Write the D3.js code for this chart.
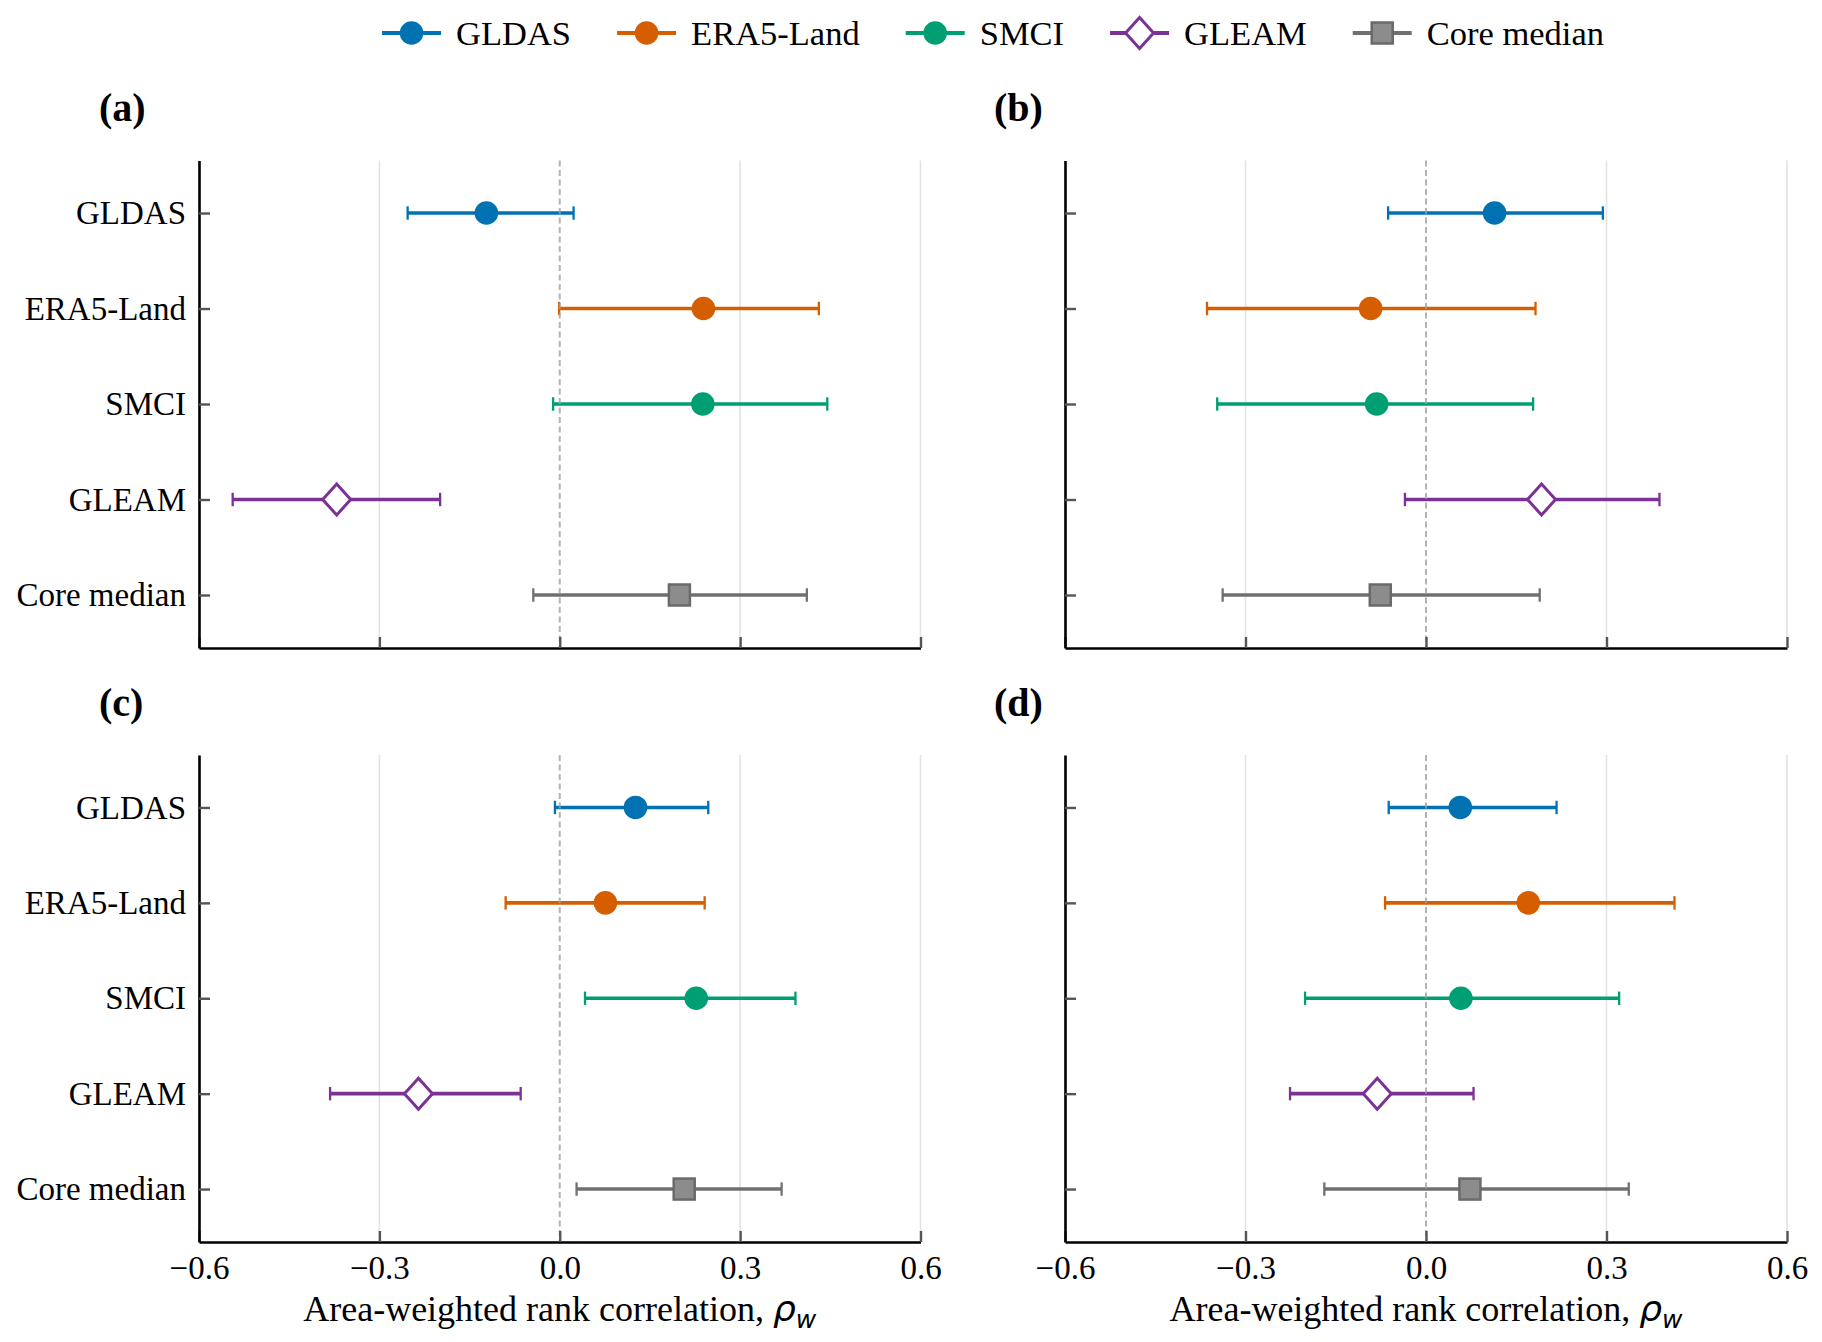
<!DOCTYPE html>
<html>
<head>
<meta charset="utf-8">
<script src="https://cdn.jsdelivr.net/npm/d3@7"></script>
<style>
  html, body { margin: 0; padding: 0; background: #fff; }
  svg { display: block; }
  text { font-family: "Liberation Serif", "Times New Roman", serif; fill: #000; }
</style>
</head>
<body>
<svg id="chart" width="1822" height="1342"></svg>
<script>
// ---------- data ----------
const categories = ["GLDAS", "ERA5-Land", "SMCI", "GLEAM", "Core median"];
const seriesColors = ["#0072B2", "#D55E00", "#009E73", "#7B3294", "#707070"];
const xTicks = [-0.6, -0.3, 0.0, 0.3, 0.6];
const panelLabels = ["(a)", "(b)", "(c)", "(d)"];

const panelA_est = [-0.122, 0.239, 0.238, -0.371, 0.199];
const panelA_lo  = [-0.253, -0.001, -0.011, -0.544, -0.044];
const panelA_hi  = [0.023, 0.431, 0.445, -0.199, 0.411];

const panelB_est = [0.114, -0.092, -0.082, 0.192, -0.076];
const panelB_lo  = [-0.063, -0.364, -0.347, -0.035, -0.338];
const panelB_hi  = [0.294, 0.182, 0.178, 0.388, 0.189];

const panelC_est = [0.126, 0.076, 0.227, -0.235, 0.207];
const panelC_lo  = [-0.008, -0.090, 0.042, -0.382, 0.028];
const panelC_hi  = [0.247, 0.241, 0.392, -0.065, 0.369];

const panelD_est = [0.057, 0.170, 0.058, -0.081, 0.073];
const panelD_lo  = [-0.062, -0.068, -0.201, -0.226, -0.169];
const panelD_hi  = [0.217, 0.413, 0.321, 0.079, 0.337];

const xTitle = "Area-weighted rank correlation, ";

// ---------- layout ----------
const svg = d3.select("#chart");
const colX = [[199, 920.5], [1065, 1787]];
const rowY = [[160.5, 648], [755, 1242]];
const labelX = [99, 994];
const labelBaseline = [121, 716];

const panels = [
  { est: panelA_est, lo: panelA_lo, hi: panelA_hi, col: 0, row: 0, showY: true,  showX: false },
  { est: panelB_est, lo: panelB_lo, hi: panelB_hi, col: 1, row: 0, showY: false, showX: false },
  { est: panelC_est, lo: panelC_lo, hi: panelC_hi, col: 0, row: 1, showY: true,  showX: true },
  { est: panelD_est, lo: panelD_lo, hi: panelD_hi, col: 1, row: 1, showY: false, showX: true }
];

const fmt = d3.format(".1f");

function drawMarker(g, i, cx, cy) {
  const c = seriesColors[i];
  if (i <= 2) {
    g.append("circle").attr("cx", cx).attr("cy", cy).attr("r", 11.8).attr("fill", c);
  } else if (i === 3) {
    g.append("path")
      .attr("d", `M${cx},${cy - 15.5} L${cx + 14},${cy} L${cx},${cy + 15.5} L${cx - 14},${cy} Z`)
      .attr("fill", "#fff").attr("stroke", c).attr("stroke-width", 3).attr("stroke-linejoin", "miter");
  } else {
    g.append("rect").attr("x", cx - 10.5).attr("y", cy - 10.5).attr("width", 21).attr("height", 21)
      .attr("fill", "#8c8c8c").attr("stroke", "#6a6a6a").attr("stroke-width", 2.5);
  }
}

panels.forEach((p, k) => {
  const [x0, x1] = colX[p.col];
  const [y0, y1] = rowY[p.row];
  const x = d3.scaleLinear().domain([-0.6, 0.6]).range([x0, x1]);
  const y = d3.scaleLinear().domain([-0.55, 4.555]).range([y0, y1]);
  const g = svg.append("g");

  // grid
  g.selectAll("line.grid").data(xTicks.filter(v => v !== 0)).enter().append("line")
    .attr("x1", d => x(d)).attr("x2", d => x(d)).attr("y1", y0).attr("y2", y1)
    .attr("stroke", "#e3e3e3").attr("stroke-width", 1.6);

  const gBars = g.append("g");
  const gZero = g.append("g");
  const gMarks = g.append("g");

  // zero line (drawn over bars, under markers)
  gZero.append("line").attr("x1", x(0)).attr("x2", x(0)).attr("y1", y0).attr("y2", y1)
    .attr("stroke", "#a0a0a0").attr("stroke-opacity", 0.8).attr("stroke-width", 2).attr("stroke-dasharray", "6,3.5");

  // data
  categories.forEach((cat, i) => {
    const cy = y(i);
    const c = seriesColors[i];
    gBars.append("line").attr("x1", x(p.lo[i])).attr("x2", x(p.hi[i])).attr("y1", cy).attr("y2", cy)
      .attr("stroke", c).attr("stroke-width", 3.6);
    [p.lo[i], p.hi[i]].forEach(v => {
      gBars.append("line").attr("x1", x(v)).attr("x2", x(v)).attr("y1", cy - 6.7).attr("y2", cy + 6.7)
        .attr("stroke", c).attr("stroke-width", 2.3);
    });
    drawMarker(gMarks, i, x(p.est[i]), cy);
  });

  // x axis
  const xAxis = d3.axisBottom(x).tickValues(xTicks).tickSizeInner(-11).tickSizeOuter(0)
    .tickPadding(p.showX ? 24 : 0)
    .tickFormat(d => p.showX ? fmt(d) : "");
  const gx = svg.append("g").attr("transform", `translate(0,${y1})`).call(xAxis);
  gx.select(".domain").attr("stroke", "#000").attr("stroke-width", 2.6);
  gx.selectAll(".tick line").attr("stroke", "#555").attr("stroke-width", 2.4);
  gx.selectAll(".tick text").attr("font-size", 33).attr("font-family", '"Liberation Serif", serif')
    .attr("dy", null).attr("y", 1278.6 - y1).attr("dominant-baseline", "alphabetic");

  // y axis
  const yAxis = d3.axisLeft(y).tickValues(d3.range(categories.length)).tickSizeInner(-11).tickSizeOuter(0)
    .tickPadding(13)
    .tickFormat(i => p.showY ? categories[i] : "");
  const gy = svg.append("g").attr("transform", `translate(${x0},0)`).call(yAxis);
  gy.select(".domain").attr("stroke", "#000").attr("stroke-width", 2.6);
  gy.selectAll(".tick line").attr("stroke", "#555").attr("stroke-width", 2.4);
  gy.selectAll(".tick text").attr("font-size", 33).attr("font-family", '"Liberation Serif", serif');

  // panel label
  svg.append("text").attr("x", labelX[p.col]).attr("y", labelBaseline[p.row])
    .attr("font-size", 40).attr("font-weight", "bold").text(panelLabels[k]);

  // x title
  if (p.showX) {
    const t = svg.append("text").attr("x", (x0 + x1) / 2).attr("y", 1321)
      .attr("text-anchor", "middle").attr("font-size", 36);
    t.append("tspan").text(xTitle);
    t.append("tspan").attr("font-family", '"DejaVu Sans", sans-serif').attr("font-style", "italic").text("ρ");
    t.append("tspan").attr("font-family", '"DejaVu Sans", sans-serif').attr("font-style", "italic")
      .attr("font-size", 25).attr("dy", 7).text("w");
  }
});

// ---------- legend ----------
const legend = svg.append("g");
const lineLen = 59, textGap = 15, itemGap = 46, legendY = 33;
const items = [];
categories.forEach((cat, i) => {
  const gi = legend.append("g");
  const t = gi.append("text").attr("x", lineLen + textGap).attr("y", legendY)
    .attr("dominant-baseline", "central").attr("font-size", 34.5).text(cat);
  gi.append("line").attr("x1", 0).attr("x2", lineLen).attr("y1", legendY).attr("y2", legendY)
    .attr("stroke", seriesColors[i]).attr("stroke-width", 3.8);
  drawMarker(gi, i, lineLen / 2, legendY);
  items.push({ g: gi, w: lineLen + textGap + t.node().getComputedTextLength() });
});
const total = d3.sum(items, d => d.w) + itemGap * (items.length - 1);
let cursor = (199 + 1787) / 2 - total / 2;
items.forEach(it => {
  it.g.attr("transform", `translate(${cursor},0)`);
  cursor += it.w + itemGap;
});
</script>
</body>
</html>
